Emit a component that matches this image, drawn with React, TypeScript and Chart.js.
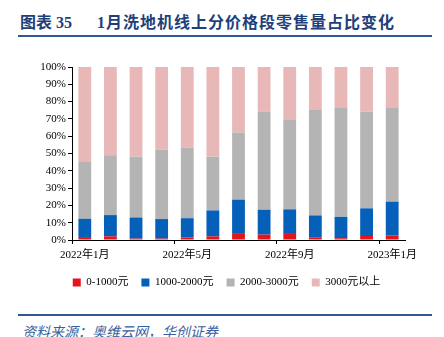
import React, { useEffect, useRef } from "react";
import { Chart, registerables } from "chart.js";

Chart.register(...registerables);

const categories = [
  "2022年1月", "2022年2月", "2022年3月", "2022年4月", "2022年5月", "2022年6月", "2022年7月",
  "2022年8月", "2022年9月", "2022年10月", "2022年11月", "2022年12月", "2023年1月",
];
const seriesNames = ["0-1000元", "1000-2000元", "2000-3000元", "3000元以上"];
const s0to1000 = [1.2, 2.1, 0.8, 0.8, 1.5, 2.1, 4.0, 3.1, 3.5, 1.6, 1.0, 2.3, 2.7];
const s1000to2000 = [11.1, 12.3, 12.2, 11.3, 11.1, 15.0, 19.3, 14.4, 14.2, 12.6, 12.4, 16.0, 19.5];
const s2000to3000 = [33.2, 34.6, 35.2, 40.0, 40.9, 31.1, 38.8, 56.6, 51.6, 60.9, 62.9, 56.0, 54.1];
const s3000plus = [54.5, 51.0, 51.8, 47.9, 46.5, 51.8, 37.9, 25.9, 30.7, 24.9, 23.7, 25.7, 23.7];
const yTicks = [0, 10, 20, 30, 40, 50, 60, 70, 80, 90, 100];
const colors = ["#E8141C", "#0460B8", "#B4B4B4", "#E8B8B8"];

export default function App() {
  const ref = useRef<HTMLCanvasElement | null>(null);
  useEffect(() => {
    if (!ref.current) return;
    const serif = "'Liberation Serif', 'Times New Roman', 'Noto Sans CJK SC', serif";
    const series = [s0to1000, s1000to2000, s2000to3000, s3000plus];
    const chart = new Chart(ref.current, {
      type: "bar",
      data: {
        labels: categories,
        datasets: series.map((d, i) => ({
          label: seriesNames[i],
          data: d,
          backgroundColor: colors[i],
          borderWidth: 0,
          barPercentage: 0.5,
          categoryPercentage: 1,
        })),
      },
      options: {
        animation: false,
        responsive: false,
        maintainAspectRatio: false,
        layout: { padding: { left: 9, right: 0, top: 27, bottom: 2 } },
        plugins: {
          tooltip: { enabled: false },
          legend: {
            position: "bottom",
            labels: {
              boxWidth: 8,
              boxHeight: 8,
              padding: 13,
              color: "#000",
              font: { family: serif, size: 11 },
            },
          },
        },
        scales: {
          x: {
            stacked: true,
            grid: {
              display: true,
              offset: true,
              drawOnChartArea: false,
              tickLength: 4,
              tickColor: (ctx: any) => (ctx.index % 4 === 0 ? "#000" : "rgba(0,0,0,0)"),
            },
            border: { display: true, color: "#000", width: 1 },
            ticks: {
              autoSkip: false,
              maxRotation: 0,
              minRotation: 0,
              color: "#000",
              padding: 5,
              font: { family: serif, size: 11 },
              callback: (_v: any, i: number) => (i % 4 === 0 ? categories[i] : ""),
            },
            afterFit: (s: any) => { s.height = 24; },
          },
          y: {
            stacked: true,
            min: 0,
            max: 100,
            afterBuildTicks: (s: any) => { s.ticks = yTicks.map((v) => ({ value: v })); },
            grid: { display: true, drawOnChartArea: false, tickLength: 4, tickColor: "#000" },
            border: { display: true, color: "#000", width: 1 },
            ticks: {
              color: "#000",
              padding: 2,
              font: { family: serif, size: 11 },
              callback: (v: any) => v + "%",
            },
            afterFit: (s: any) => { s.width = 63; },
          },
          yRight: {
            position: "right",
            display: true,
            min: 0,
            max: 100,
            grid: { display: false },
            border: { display: false },
            ticks: { display: false },
            afterFit: (s: any) => { s.width = 39; },
          },
        },
      },
    });
    return () => chart.destroy();
  }, []);

  const titleFont = "'Liberation Serif', 'Noto Sans CJK SC', serif";
  return (
    <div style={{ position: "fixed", left: 0, top: 0, width: 444, height: 337, background: "#fff", overflow: "hidden" }}>
      <div
        style={{
          position: "absolute",
          left: 20,
          top: 13,
          fontFamily: titleFont,
          fontWeight: "bold",
          fontSize: 16,
          color: "#1F3F7A",
          whiteSpace: "pre",
          lineHeight: "20px",
        }}
      >
        {"图表 35"}
      </div>
      <div
        style={{
          position: "absolute",
          left: 97,
          top: 13,
          fontFamily: titleFont,
          fontWeight: "bold",
          fontSize: 16,
          letterSpacing: 1,
          color: "#1F3F7A",
          whiteSpace: "pre",
          lineHeight: "20px",
        }}
      >
        {"1月洗地机线上分价格段零售量占比变化"}
      </div>
      <div style={{ position: "absolute", left: 18, top: 35, width: 414, height: 2, background: "#2F5A91" }} />
      <canvas ref={ref} width={444} height={260} style={{ position: "absolute", left: 0, top: 40, width: 444, height: 260 }} />
      <div style={{ position: "absolute", left: 18, top: 314, width: 414, height: 2, background: "#2F5A91" }} />
      <div
        style={{
          position: "absolute",
          left: 22,
          top: 322,
          fontFamily: "'Noto Sans CJK SC', sans-serif",
          fontStyle: "italic",
          fontSize: 14,
          color: "#3A5FA0",
          whiteSpace: "pre",
          lineHeight: "18px",
        }}
      >
        {"资料来源：奥维云网，华创证券"}
      </div>
    </div>
  );
}
